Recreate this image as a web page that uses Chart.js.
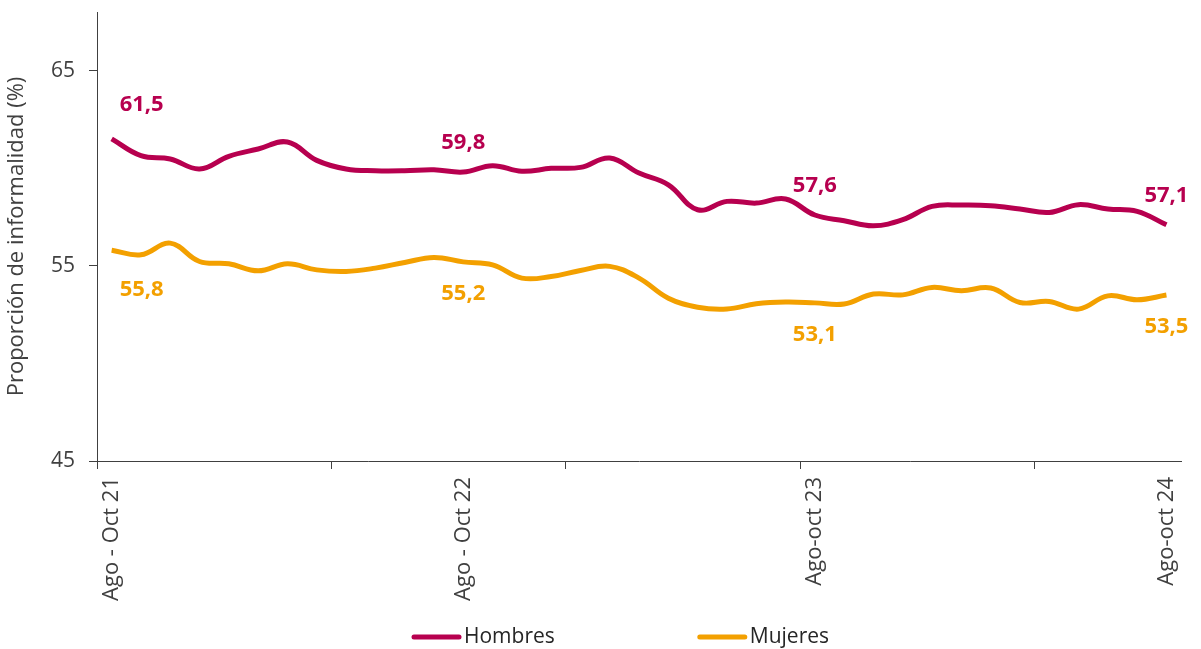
<!DOCTYPE html>
<html lang="es">
<head>
<meta charset="utf-8">
<title>Proporción de informalidad</title>
<script src="https://cdn.jsdelivr.net/npm/chart.js@4.4.1/dist/chart.umd.min.js"></script>
<style>
    body { margin: 0; background: #fff; }
    #wrap { position: relative; width: 1201px; height: 649px; }
</style>
</head>
<body>
<div id="wrap"><canvas id="informalidadChart"></canvas></div>
<script>
// Trimestres móviles
const categorias = [
    'Ago - Oct 21', 'Sep - Nov 21', 'Oct - Dic 21', 'Nov 21 - Ene 22', 'Dic 21 - Feb 22',
    'Ene - Mar 22', 'Feb - Abr 22', 'Mar - May 22', 'Abr - Jun 22', 'May - Jul 22',
    'Jun - Ago 22', 'Jul - Sep 22', 'Ago - Oct 22', 'Sep - Nov 22', 'Oct - Dic 22',
    'Nov 22 - Ene 23', 'Dic 22 - Feb 23', 'Ene - Mar 23', 'Feb - Abr 23', 'Mar - May 23',
    'Abr - Jun 23', 'May - Jul 23', 'Jun - Ago 23', 'Jul - Sep 23', 'Ago-oct 23',
    'Sep - Nov 23', 'Oct - Dic 23', 'Nov 23 - Ene 24', 'Dic 23 - Feb 24', 'Ene - Mar 24',
    'Feb - Abr 24', 'Mar - May 24', 'Abr - Jun 24', 'May - Jul 24', 'Jun - Ago 24',
    'Jul - Sep 24', 'Ago-oct 24'
];

const hombres = [
    61.5, 60.64, 60.47, 59.96, 60.61, 60.98, 61.34, 60.40, 59.96, 59.87,
    59.87, 59.92, 59.8, 60.13, 59.84, 59.99, 60.04, 60.52, 59.75, 59.15,
    57.87, 58.30, 58.21, 58.42, 57.6, 57.31, 57.05, 57.36, 58.04, 58.11,
    58.08, 57.91, 57.73, 58.13, 57.91, 57.79, 57.1
];

const mujeres = [
    55.8, 55.56, 56.16, 55.22, 55.10, 54.74, 55.10, 54.79, 54.71, 54.88,
    55.17, 55.43, 55.2, 55.05, 54.37, 54.45, 54.76, 54.97, 54.37, 53.34,
    52.88, 52.79, 53.05, 53.14, 53.1, 53.04, 53.55, 53.51, 53.89, 53.72,
    53.86, 53.12, 53.17, 52.78, 53.46, 53.26, 53.5
];

const etiquetasVisibles = [0, 12, 24, 36];   // trimestres con etiqueta en el eje x
const valoresEjeY = [45, 55, 65];
const FUENTE = '"Open Sans", "Noto Sans", sans-serif';
const GRIS = '#404040';

// Valores escritos sobre / bajo las líneas
const pluginValores = {
    id: 'valores',
    afterDatasetsDraw(chart) {
        const ctx = chart.ctx;
        ctx.save();
        ctx.font = 'bold 22px ' + FUENTE;
        ctx.textBaseline = 'middle';
        ctx.textAlign = 'center';
        chart.data.datasets.forEach((ds, i) => {
            const meta = chart.getDatasetMeta(i);
            const arriba = i === 0;
            ctx.fillStyle = ds.borderColor;
            etiquetasVisibles.forEach(idx => {
                const p = meta.data[idx];
                const texto = ds.data[idx].toFixed(1).replace('.', ',');
                let x = p.x;
                let y = p.y + (arriba ? -29 : 32);
                if (idx === 0) {
                    x += 30;
                    y = p.y + (arriba ? -34 : 40);
                }
                ctx.fillText(texto, x, y);
            });
        });
        ctx.restore();
    }
};

// Leyenda dibujada a mano (línea + texto)
const pluginLeyenda = {
    id: 'leyendaLinea',
    afterDraw(chart) {
        const ctx = chart.ctx;
        ctx.save();
        ctx.font = '21px ' + FUENTE;
        ctx.textBaseline = 'middle';
        ctx.textAlign = 'left';
        let x = 412;
        const y = 637;
        chart.data.datasets.forEach(ds => {
            ctx.strokeStyle = ds.borderColor;
            ctx.lineWidth = 5;
            ctx.lineCap = 'round';
            ctx.beginPath();
            ctx.moveTo(x + 2, y);
            ctx.lineTo(x + 47, y);
            ctx.stroke();
            ctx.fillStyle = '#262626';
            ctx.fillText(ds.label, x + 52, y);
            x += 52 + ctx.measureText(ds.label).width + 143;
        });
        ctx.restore();
    }
};

const ctx = document.getElementById('informalidadChart').getContext('2d');
new Chart(ctx, {
    type: 'line',
    data: {
        labels: categorias,
        datasets: [{
            label: 'Hombres',
            data: hombres,
            borderColor: '#B7004F',
            borderWidth: 5,
            pointRadius: 0,
            tension: 0.4,
            fill: false
        }, {
            label: 'Mujeres',
            data: mujeres,
            borderColor: '#F3A000',
            borderWidth: 5,
            pointRadius: 0,
            tension: 0.4,
            fill: false
        }]
    },
    options: {
        responsive: true,
        maintainAspectRatio: false,
        animation: false,
        layout: { padding: { left: 0, top: 12, right: 12, bottom: 0 } },
        plugins: {
            legend: { display: false },
            tooltip: { enabled: false }
        },
        scales: {
            x: {
                offset: true,
                grid: {
                    offset: true,
                    drawOnChartArea: false,
                    tickLength: 8,
                    lineWidth: 1,
                    color: c => (c.index !== undefined && c.index % 8 === 0) ? GRIS : 'rgba(0,0,0,0)'
                },
                border: { display: true, color: GRIS, width: 1 },
                ticks: {
                    autoSkip: false,
                    minRotation: 90,
                    maxRotation: 90,
                    padding: 8,
                    color: GRIS,
                    font: { family: FUENTE, size: 22 },
                    callback: function (val, i) {
                        return etiquetasVisibles.includes(i) ? categorias[i] : '';
                    }
                },
                afterFit: s => { s.height = 188; s.paddingTop = 0; s.paddingBottom = 0; }
            },
            y: {
                min: 45,
                max: 68,
                grid: {
                    drawOnChartArea: false,
                    tickLength: 8,
                    color: GRIS
                },
                border: { display: true, color: GRIS, width: 1 },
                ticks: {
                    padding: 14,
                    color: GRIS,
                    font: { family: FUENTE, size: 21 }
                },
                afterBuildTicks: s => { s.ticks = valoresEjeY.map(v => ({ value: v })); },
                title: {
                    display: true,
                    text: 'Proporción de informalidad (%)',
                    color: GRIS,
                    font: { family: FUENTE, size: 22 },
                    padding: { top: 4, bottom: 0 }
                },
                afterFit: s => { s.width = 97; s.paddingTop = 0; s.paddingBottom = 0; }
            }
        }
    },
    plugins: [pluginValores, pluginLeyenda]
});
</script>
</body>
</html>
